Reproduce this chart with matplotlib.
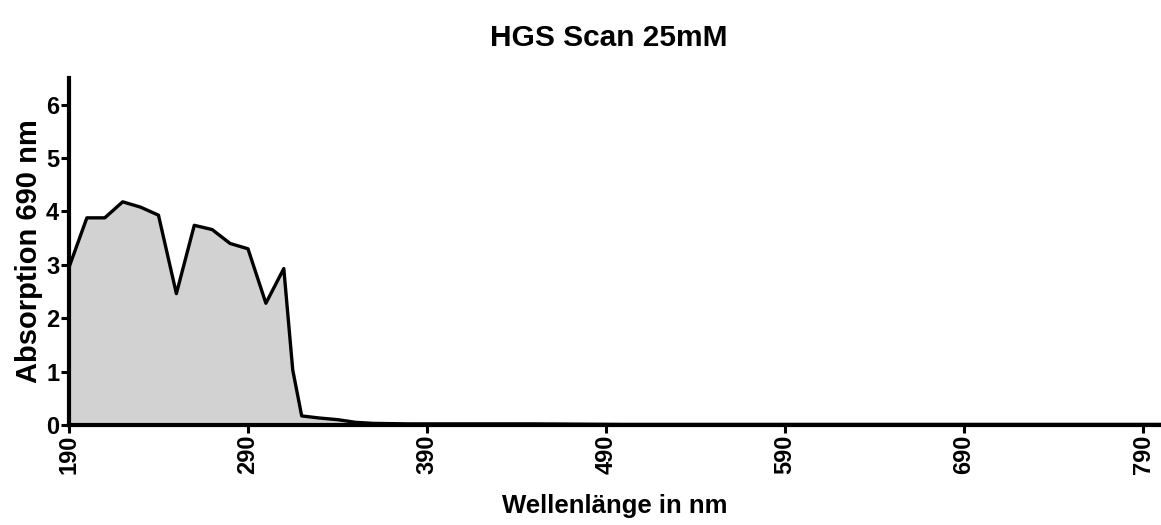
import matplotlib
matplotlib.use("Agg")
import matplotlib.pyplot as plt

plt.rcParams['font.family'] = ['Liberation Sans', 'DejaVu Sans']
plt.rcParams['font.weight'] = 'bold'

# Wellenlaenge (nm) und Absorption
wavelength = [190, 200, 210, 220, 230, 240, 250, 260, 270, 280, 290, 300, 310, 315, 320,
              330, 340, 350, 360, 380, 400, 450, 500, 550, 600, 650, 700, 750, 800]
absorption = [2.95, 3.88, 3.88, 4.18, 4.08, 3.93, 2.46, 3.74, 3.66, 3.40, 3.30, 2.28, 2.93, 1.03, 0.17,
              0.13, 0.10, 0.05, 0.03, 0.02, 0.02, 0.02, 0.01, 0.01, 0.01, 0.01, 0.01, 0.01, 0.01]

x_ticks = [190, 290, 390, 490, 590, 690, 790]
y_ticks = [0, 1, 2, 3, 4, 5, 6]

fig = plt.figure(figsize=(11.61, 5.25), dpi=100)
ax = fig.add_axes([0.0594, 0.1905, 0.9406, 0.661])

ax.fill_between(wavelength, absorption, 0, facecolor='#d2d2d2', edgecolor='none')
ax.plot(wavelength, absorption, color='black', linewidth=2.4)

ax.set_xlim(190, 800)
ax.set_ylim(0, 6.5)
ax.set_xticks(x_ticks)
ax.set_yticks(y_ticks)
ax.set_xticklabels([str(t) for t in x_ticks], rotation=90, fontsize=17, fontweight='bold')
ax.set_yticklabels([str(t) for t in y_ticks], fontsize=17, fontweight='bold')

for side in ['top', 'right']:
    ax.spines[side].set_visible(False)
for side in ['left', 'bottom']:
    ax.spines[side].set_linewidth(3)
ax.tick_params(axis='both', length=6, width=2.2, direction='out', pad=1)

ax.set_xlabel('Wellenlänge in nm', fontsize=18.5, fontweight='bold', labelpad=14)
ax.set_ylabel('Absorption 690 nm', fontsize=21, fontweight='bold', labelpad=2)
fig.suptitle('HGS Scan 25mM', fontsize=21.5, fontweight='bold', x=0.524, y=0.955)

fig.savefig('out.png', dpi=100)
